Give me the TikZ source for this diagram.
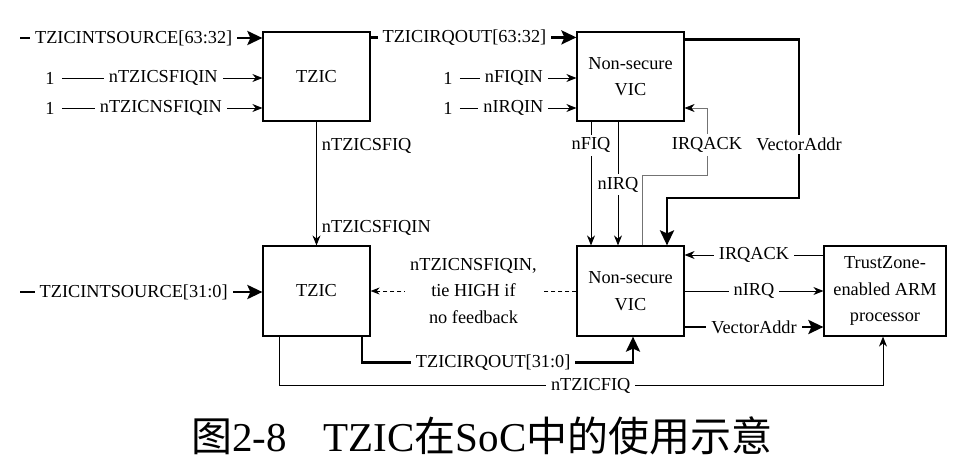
\documentclass[tikz,border=0pt]{standalone}
\usepackage{fontspec}
\setmainfont{Liberation Serif}
\newfontfamily\lserif{Liberation Serif}
\newfontfamily\cjk{Noto Sans CJK SC}
\usetikzlibrary{arrows.meta}

\begin{document}
\begin{tikzpicture}[
  x=1pt, y=-1pt,
  every node/.style={font=\lserif\fontsize{18.3}{26.5}\selectfont, inner sep=2pt},
  block/.style={draw, line width=1.2pt, minimum width=107pt, minimum height=89pt, align=center},
  constin/.style={inner sep=7pt},
  lbl/.style={fill=white, inner xsep=5pt, inner ysep=3pt},
  sig/.style={line width=0.9pt, -{Stealth[length=10pt, width=8pt]}},
  ack/.style={line width=0.6pt, draw=black!55, -{Stealth[length=10pt, width=8pt, black]}},
  bus/.style={line width=2.8pt, -{Stealth[length=15pt, width=14pt, inset=3pt]}},
  tie/.style={line width=0.9pt, dash pattern=on 4pt off 3pt, -{Stealth[length=9pt, width=7pt]}}
]
  \useasboundingbox (0,0) rectangle (964,472);

  \node[block] (tzicA) at (316.5,76.5) {TZIC};
  \node[block] (vicA) at (630.5,76.5) {Non-secure\\VIC};
  \node[block, minimum height=90pt] (tzicB) at (316.5,291) {TZIC};
  \node[block, minimum height=90pt] (vicB) at (630.5,291) {Non-secure\\VIC};
  \node[block, minimum height=90pt, minimum width=122pt] (arm) at (885,291) {TrustZone-\\enabled ARM\\processor};

  \coordinate (srcA) at (20,38);
  \coordinate (srcB) at (20,292);
  \node[constin] (oneA) at (50,78) {1};
  \node[constin] (oneB) at (50,108) {1};
  \node[constin] (oneC) at (448,78) {1};
  \node[constin] (oneD) at (448,108) {1};

  \draw[bus] (srcA) -- node[lbl, pos=0.469] (lsrcA) {TZICINTSOURCE[63:32]} (srcA -| tzicA.west);
  \draw[sig] (oneA) -- node[lbl, pos=0.506] (lsfiqin) {nTZICSFIQIN} (oneA -| tzicA.west);
  \draw[sig] (oneB) -- node[lbl, pos=0.494] (lnsfiqin) {nTZICNSFIQIN} (oneB -| tzicA.west);
  \draw[bus] ([yshift=-6pt]tzicA.north east) -- node[lbl, pos=0.456] (lirqoutA) {TZICIRQOUT[63:32]} ([yshift=-6pt]vicA.north west);
  \draw[sig] (oneC) -- node[lbl, pos=0.464] (lfiqin) {nFIQIN} (oneC -| vicA.west);
  \draw[sig] (oneD) -- node[lbl, pos=0.46] (lirqin) {nIRQIN} (oneD -| vicA.west);

  \draw[sig] (tzicA.south) -- node[right=3pt, pos=0.2] (lsfiq) {nTZICSFIQ}
    node[right=3pt, pos=0.86] (lsfiqinB) {nTZICSFIQIN} (tzicB.north);
  \draw[sig] ([xshift=-39.5pt]vicA.south) -- node[lbl, pos=0.19] (lfiq) {nFIQ} ([xshift=-39.5pt]vicB.north);
  \draw[sig] ([xshift=-12.5pt]vicA.south) -- node[lbl, pos=0.51] (lirq) {nIRQ} ([xshift=-12.5pt]vicB.north);
  \draw[ack] ([xshift=11.5pt]vicB.north) |- (707,175) |- node[lbl, pos=0.224] (lackA) {IRQACK} ([yshift=-31.5pt]vicA.east);
  \draw[bus] ([yshift=-8pt]vicA.north east) -| node[lbl, pos=0.832] (lvecA) {VectorAddr} (799,198) -| ([xshift=36.5pt]vicB.north);

  \draw[bus] (srcB) -- node[lbl, pos=0.469] (lsrcB) {TZICINTSOURCE[31:0]} (srcB -| tzicB.west);
  \draw[tie] (vicB.west) -- node[lbl, align=center] (lnsfiqinB) {nTZICNSFIQIN,\\tie HIGH if\\no feedback} (tzicB.east);
  \draw[bus] ([xshift=45.5pt]tzicB.south) -- ++(0,26) -| node[lbl, pos=0.242] (lirqoutB) {TZICIRQOUT[31:0]} ([xshift=2.5pt]vicB.south);
  \draw[sig] ([xshift=-37.5pt]tzicB.south) -- ++(0,49) -| node[lbl, pos=0.258] (lfiqB) {nTZICFIQ} ([xshift=-2pt]arm.south);

  \draw[sig] ([yshift=36pt]arm.west) -- node[lbl] (lackB) {IRQACK} ([yshift=36pt]vicB.east);
  \draw[sig] (vicB.east) -- node[lbl] (lirqB) {nIRQ} (arm.west);
  \draw[bus] ([yshift=-36pt]vicB.east) -- node[lbl] (lvecB) {VectorAddr} ([yshift=-36pt]arm.west);

  \node (caption) at (482,436) {\fontsize{41}{41}\selectfont{\cjk 图}2-8\hspace{0.9em}TZIC{\cjk 在}SoC{\cjk 中的使用示意}};
\end{tikzpicture}
\end{document}
